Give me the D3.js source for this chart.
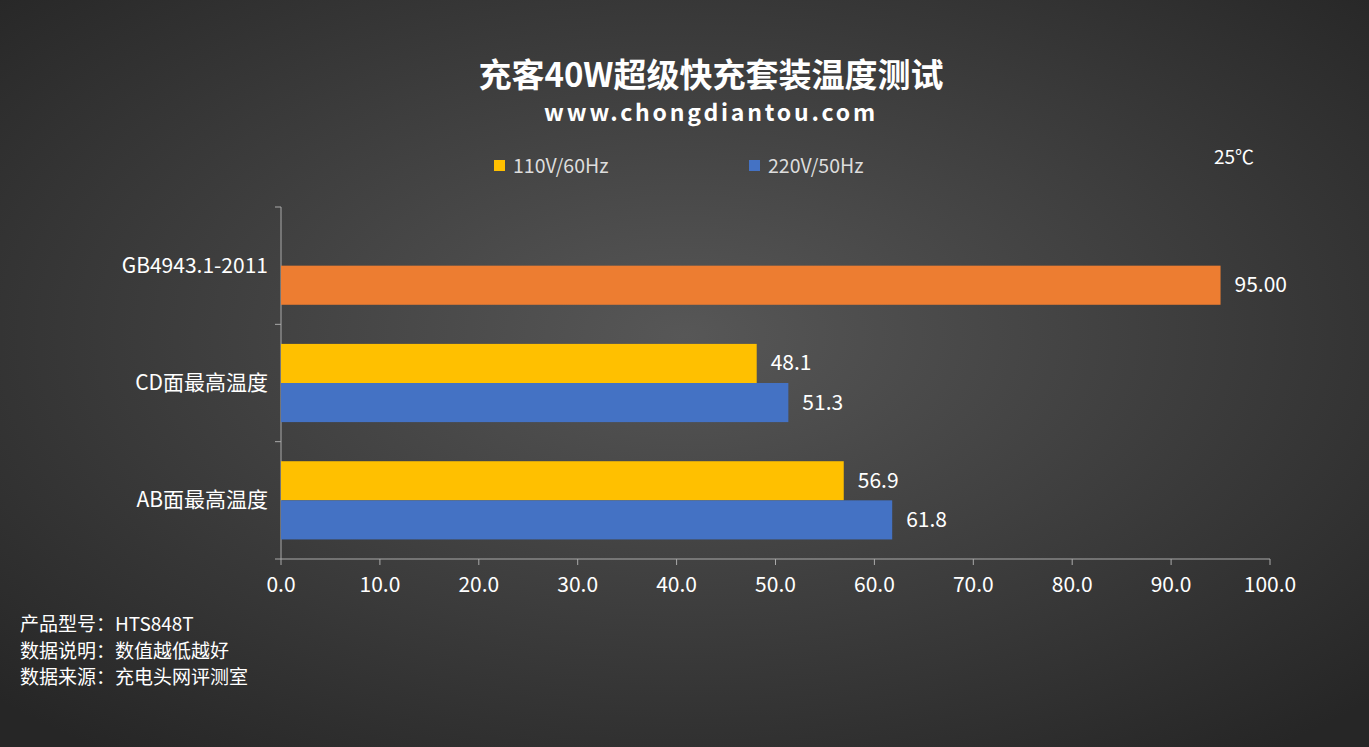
<!DOCTYPE html><html><head><meta charset="utf-8"><script src="https://cdn.jsdelivr.net/npm/d3@7"></script>
<style>body{margin:0;background:#333}</style></head><body><svg id="c" width="1369" height="747"></svg>
<script>
const categories=["GB4943.1-2011","CD面最高温度","AB面最高温度"];
const series=["110V/60Hz","220V/50Hz"];
const v110=[null,48.1,56.9];
const v220=[null,51.3,61.8];
const standard=[95.00,null,null];
const xTicks=[0,10,20,30,40,50,60,70,80,90,100];
const colors={"110V/60Hz":"#FFC000","220V/50Hz":"#4472C4",std:"#ED7D31"};
const svg=d3.select("#c");
const defs=svg.append("defs");
const g=defs.append("radialGradient").attr("id","bg").attr("cx","50%").attr("cy","45%").attr("r","70%");
g.append("stop").attr("offset","0%").attr("stop-color","#575757");
g.append("stop").attr("offset","100%").attr("stop-color","#262626");
svg.append("rect").attr("width",1369).attr("height",747).attr("fill","url(#bg)");
const F="'Microsoft YaHei','Noto Sans CJK SC',sans-serif";
svg.append("text").attr("x",711).attr("y",87).attr("text-anchor","middle").attr("fill","#fff").attr("font-family",F).attr("font-weight","bold").attr("font-size",33).text("充客40W超级快充套装温度测试");
svg.append("text").attr("x",711).attr("y",121).attr("text-anchor","middle").attr("fill","#fff").attr("font-family",F).attr("font-weight","bold").attr("font-size",23).attr("letter-spacing",2.8).text("www.chongdiantou.com");
svg.append("text").attr("x",1234).attr("y",164).attr("text-anchor","middle").attr("fill","#fff").attr("font-family",F).attr("font-size",19).text("25℃");
const lx=[494,749];
series.forEach((s,i)=>{
 svg.append("rect").attr("x",lx[i]).attr("y",160).attr("width",11).attr("height",11).attr("fill",colors[s]);
 svg.append("text").attr("x",lx[i]+19).attr("y",173).attr("fill","#ddd").attr("font-family",F).attr("font-size",19.5).text(s);
});
const x=d3.scaleLinear().domain([0,100]).range([281,1270]);
const y=d3.scaleBand().domain(categories).range([207,559]);
const sub=d3.scaleBand().domain(["a","b"]).range([0,y.bandwidth()]).paddingOuter(0.5).paddingInner(0);
const yl=[207,...categories.map(c=>y(c)+y.bandwidth())];
svg.append("line").attr("x1",281).attr("x2",281).attr("y1",207).attr("y2",559).attr("stroke","#aaa");
svg.append("line").attr("x1",281).attr("x2",1270).attr("y1",559).attr("y2",559).attr("stroke","#aaa");
yl.forEach(v=>svg.append("line").attr("x1",275).attr("x2",281).attr("y1",v).attr("y2",v).attr("stroke","#aaa"));
xTicks.forEach(t=>{
 svg.append("line").attr("x1",x(t)).attr("x2",x(t)).attr("y1",559).attr("y2",565).attr("stroke","#aaa");
 svg.append("text").attr("x",x(t)).attr("y",592).attr("text-anchor","middle").attr("fill","#fff").attr("font-family",F).attr("font-size",21).text(t.toFixed(1));
});
categories.forEach(c=>svg.append("text").attr("x",268).attr("y",y(c)+y.bandwidth()/2+7).attr("text-anchor","end").attr("fill","#fff").attr("font-family",F).attr("font-size",21).text(c));
function bars(vals,slot,color,fmt){
 categories.forEach((c,i)=>{const v=vals[i];if(v==null)return;
  const yy=y(c)+sub(slot);
  svg.append("rect").attr("x",x(0)).attr("y",yy).attr("width",x(v)-x(0)).attr("height",sub.bandwidth()).attr("fill",color);
  svg.append("text").attr("x",x(v)+14).attr("y",yy+sub.bandwidth()/2+7).attr("fill","#fff").attr("font-family",F).attr("font-size",21).text(v.toFixed(fmt));
 });
}
bars(v110,"a",colors["110V/60Hz"],1);
bars(v220,"b",colors["220V/50Hz"],1);
bars(standard,"b",colors.std,2);
["产品型号：HTS848T","数据说明：数值越低越好","数据来源：充电头网评测室"].forEach((t,i)=>svg.append("text").attr("x",20).attr("y",631+i*26.5).attr("fill","#fff").attr("font-family",F).attr("font-size",19).text(t));
</script></body></html>
